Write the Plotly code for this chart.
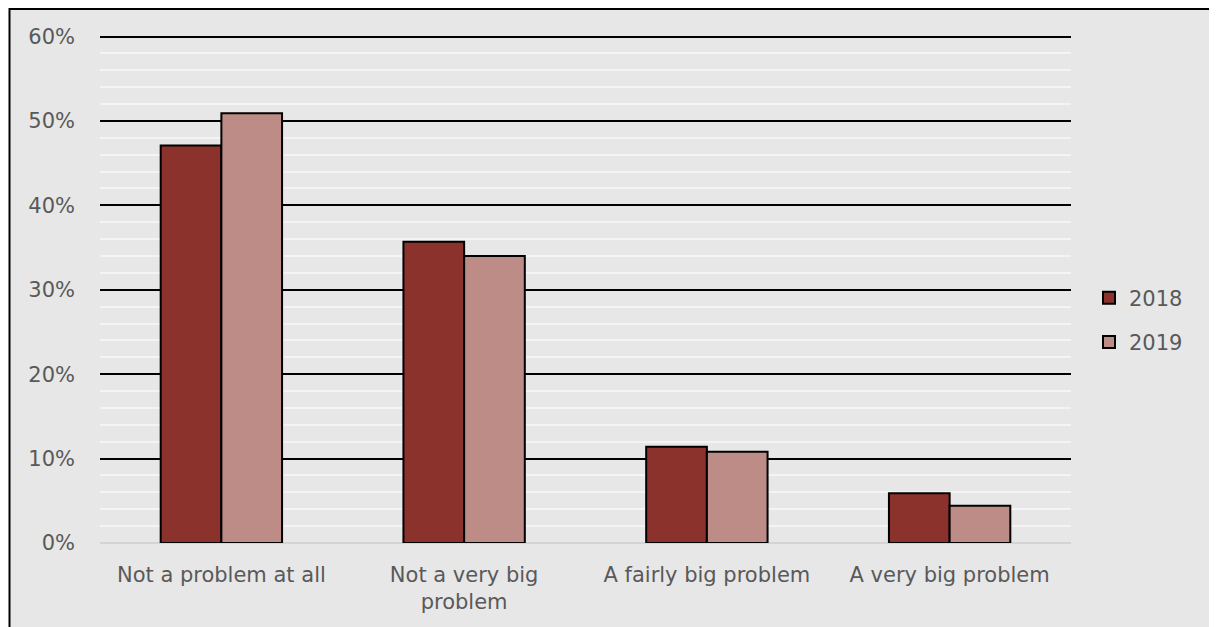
import plotly.graph_objects as go

categories = ["Not a problem at all", "Not a very big<br>problem", "A fairly big problem", "A very big problem"]
series_names = ["2018", "2019"]
values_2018 = [0.471, 0.357, 0.114, 0.059]
values_2019 = [0.509, 0.340, 0.108, 0.044]
colors = ["#8B322C", "#BD8C87"]

# page body margin shifts the figure by 8px; work in screen pixels
OFF = 8
W, H = 1217 - OFF, 627 - OFF
L, R, T, B = 100 - OFF, 146, 34 - OFF, 84
pw, ph = W - L - R, H - T - B

def px(x):
    return (x - OFF - L) / pw

def py(y):
    return (H - B - (y - OFF)) / ph

FONT = "DejaVu Sans"
TXT = "#595959"

fig = go.Figure()
for i, (name, vals) in enumerate(zip(series_names, [values_2018, values_2019])):
    fig.add_trace(go.Bar(
        x=categories, y=vals, name=name, legendgroup=name,
        marker=dict(color=colors[i], line=dict(color="black", width=2)),
    ))

fig.update_layout(
    width=W, height=H,
    margin=dict(l=L, r=R, t=T, b=B),
    paper_bgcolor="white",
    plot_bgcolor="rgba(0,0,0,0)",
    barmode="group", bargap=0.5, bargroupgap=0,
    font=dict(family=FONT, size=21, color=TXT),
    legend=dict(x=px(1089), xanchor="left", y=py(320), yanchor="middle",
                bgcolor="rgba(0,0,0,0)", traceorder="grouped", tracegroupgap=14,
                font=dict(family=FONT, size=21, color=TXT)),
    shapes=[dict(type="rect", xref="paper", yref="paper", layer="below",
                 x0=px(9.5), x1=px(1400), y0=py(9), y1=py(800),
                 fillcolor="#E7E7E7", line=dict(color="black", width=2))],
)
fig.update_yaxes(
    range=[0, 0.603], tickvals=[0, 0.1, 0.2, 0.3, 0.4, 0.5, 0.6], tickformat=".0%",
    showgrid=True, gridcolor="black", gridwidth=2,
    minor=dict(dtick=0.02, showgrid=True, gridcolor="#F4F4F4", gridwidth=1.5),
    zeroline=True, zerolinecolor="#D4D4D4", zerolinewidth=2,
    showline=False, ticks="", ticklabelstandoff=24,
    tickfont=dict(family=FONT, size=21, color=TXT),
)
fig.update_xaxes(
    showline=False, ticks="", showgrid=False, ticklabelstandoff=17,
    tickfont=dict(family=FONT, size=21, color=TXT),
)

fig.write_html("out.html")
